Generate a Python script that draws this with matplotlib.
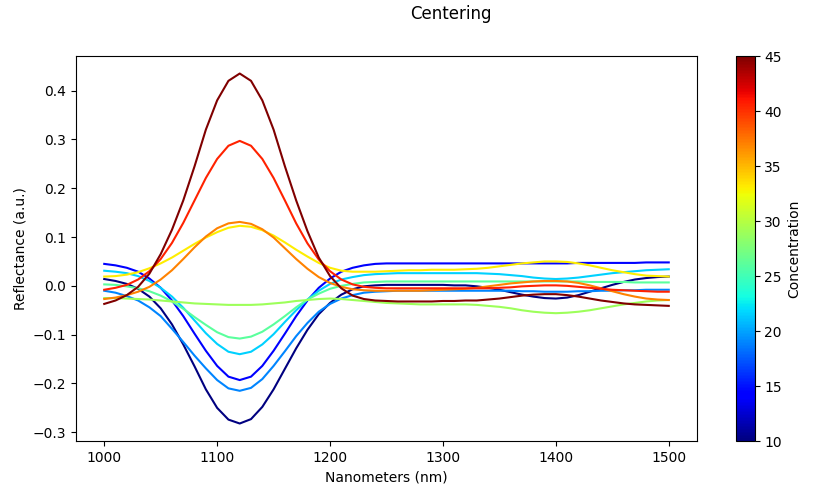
import numpy as np
import matplotlib
matplotlib.use("Agg")
import matplotlib.pyplot as plt
from matplotlib import cm, colors

# wavelength grid (nm), one sample every 10 nm
wavelengths = np.arange(1000, 1510, 10)

# concentration of each sample (colour via jet)
concentrations = [10, 14, 19, 21.5, 26, 29, 33, 37, 40.5, 45]

# centred spectra
spec_10 = [0.014, 0.010, 0.004, -0.006, -0.022, -0.046, -0.079, -0.120, -0.165, -0.212, -0.250, -0.274, -0.282,
           -0.273, -0.248, -0.212, -0.170, -0.128, -0.090, -0.058, -0.035, -0.018, -0.007, -0.001,
           0.001, 0.002, 0.002, 0.002, 0.002, 0.002, 0.002, 0.001, 0.001, -0.001,
           -0.004, -0.008, -0.013, -0.018, -0.022, -0.025, -0.026, -0.024, -0.019, -0.012, -0.005, 0.002,
           0.008, 0.013, 0.016, 0.018, 0.019]
spec_14 = [0.045, 0.042, 0.037, 0.029, 0.015, -0.004, -0.030, -0.062, -0.098, -0.133, -0.164, -0.186, -0.193,
           -0.186, -0.164, -0.133, -0.098, -0.062, -0.030, -0.004, 0.015, 0.029, 0.037, 0.042,
           0.045, 0.046, 0.046, 0.046, 0.046, 0.046, 0.046, 0.046, 0.046, 0.046,
           0.046, 0.046, 0.046, 0.046, 0.046, 0.046, 0.046, 0.046, 0.047, 0.047, 0.047, 0.047,
           0.047, 0.047, 0.048, 0.048, 0.048]
spec_19 = [-0.010, -0.014, -0.021, -0.030, -0.044, -0.062, -0.088, -0.115, -0.143, -0.169, -0.193, -0.210, -0.215,
           -0.209, -0.191, -0.164, -0.134, -0.103, -0.076, -0.053, -0.037, -0.026, -0.019, -0.014,
           -0.012, -0.011, -0.010, -0.010, -0.010, -0.010, -0.010, -0.010, -0.010, -0.010,
           -0.010, -0.010, -0.010, -0.011, -0.011, -0.012, -0.012, -0.012, -0.011, -0.011, -0.010, -0.010,
           -0.009, -0.009, -0.008, -0.008, -0.008]
spec_21 = [0.031, 0.029, 0.026, 0.020, 0.010, -0.004, -0.022, -0.045, -0.071, -0.097, -0.119, -0.135, -0.140,
           -0.135, -0.120, -0.099, -0.074, -0.050, -0.028, -0.010, 0.004, 0.013, 0.018, 0.022,
           0.024, 0.025, 0.026, 0.026, 0.026, 0.026, 0.026, 0.026, 0.026, 0.026,
           0.025, 0.024, 0.022, 0.020, 0.017, 0.015, 0.014, 0.015, 0.017, 0.020, 0.023, 0.026,
           0.028, 0.030, 0.032, 0.033, 0.034]
spec_26 = [0.003, 0.002, -0.001, -0.005, -0.011, -0.020, -0.032, -0.047, -0.064, -0.080, -0.095, -0.105, -0.108,
           -0.104, -0.094, -0.079, -0.062, -0.044, -0.028, -0.016, -0.006, 0.000, 0.004, 0.007,
           0.008, 0.009, 0.009, 0.009, 0.009, 0.009, 0.009, 0.009, 0.009, 0.009,
           0.009, 0.009, 0.009, 0.009, 0.009, 0.009, 0.009, 0.009, 0.009, 0.008, 0.008, 0.008,
           0.008, 0.007, 0.007, 0.007, 0.007]
spec_29 = [-0.025, -0.025, -0.026, -0.027, -0.028, -0.030, -0.032, -0.034, -0.036, -0.037, -0.038, -0.039, -0.039,
           -0.039, -0.038, -0.036, -0.034, -0.031, -0.029, -0.027, -0.026, -0.027, -0.029, -0.031,
           -0.033, -0.035, -0.036, -0.037, -0.038, -0.038, -0.038, -0.038, -0.038, -0.039,
           -0.041, -0.043, -0.046, -0.050, -0.053, -0.055, -0.056, -0.055, -0.053, -0.050, -0.046, -0.042,
           -0.038, -0.035, -0.032, -0.030, -0.029]
spec_33 = [0.019, 0.020, 0.023, 0.028, 0.036, 0.046, 0.058, 0.072, 0.086, 0.099, 0.110, 0.119, 0.123,
           0.121, 0.114, 0.103, 0.089, 0.074, 0.060, 0.047, 0.037, 0.031, 0.029, 0.029,
           0.029, 0.030, 0.031, 0.032, 0.032, 0.033, 0.033, 0.033, 0.034, 0.035,
           0.037, 0.040, 0.043, 0.046, 0.048, 0.050, 0.050, 0.049, 0.046, 0.042, 0.037, 0.032,
           0.028, 0.024, 0.021, 0.020, 0.019]
spec_37 = [-0.027, -0.024, -0.019, -0.012, -0.002, 0.013, 0.032, 0.055, 0.079, 0.101, 0.118, 0.128, 0.131,
           0.127, 0.116, 0.099, 0.077, 0.055, 0.035, 0.018, 0.006, -0.002, -0.007, -0.009,
           -0.010, -0.010, -0.010, -0.010, -0.010, -0.009, -0.008, -0.007, -0.006, -0.004,
           -0.001, 0.002, 0.005, 0.007, 0.009, 0.010, 0.010, 0.009, 0.006, 0.001, -0.005, -0.011,
           -0.017, -0.022, -0.026, -0.028, -0.029]
spec_40 = [-0.008, -0.004, 0.002, 0.013, 0.030, 0.055, 0.088, 0.129, 0.175, 0.221, 0.260, 0.287, 0.297,
           0.287, 0.260, 0.221, 0.175, 0.128, 0.087, 0.054, 0.030, 0.013, 0.003, -0.002,
           -0.004, -0.005, -0.005, -0.005, -0.005, -0.005, -0.005, -0.005, -0.005, -0.005,
           -0.005, -0.004, -0.003, -0.001, 0.000, 0.001, 0.001, 0.000, -0.002, -0.004, -0.006, -0.008,
           -0.009, -0.010, -0.011, -0.012, -0.012]
spec_45 = [-0.037, -0.030, -0.019, -0.002, 0.025, 0.065, 0.115, 0.175, 0.245, 0.320, 0.380, 0.420, 0.435,
           0.420, 0.380, 0.320, 0.245, 0.175, 0.112, 0.058, 0.020, -0.005, -0.020, -0.027,
           -0.030, -0.031, -0.032, -0.032, -0.032, -0.032, -0.031, -0.031, -0.030, -0.030,
           -0.028, -0.026, -0.023, -0.020, -0.018, -0.017, -0.017, -0.019, -0.022, -0.026, -0.030, -0.033,
           -0.036, -0.038, -0.039, -0.040, -0.041]

spectra = [spec_10, spec_14, spec_19, spec_21, spec_26, spec_29, spec_33, spec_37, spec_40, spec_45]

fig = plt.figure(figsize=(8.13, 4.88), dpi=100)
ax = fig.add_axes([0.0935, 0.0963, 0.7638, 0.7889])
cax = fig.add_axes([0.9047, 0.0963, 0.0234, 0.7889])

cmap = plt.get_cmap('jet')
norm = colors.Normalize(vmin=10, vmax=45)

for c, s in zip(concentrations, spectra):
    ax.plot(wavelengths, s, color=cmap(norm(c)), linewidth=1.5)

ax.set_xlabel('Nanometers (nm)')
ax.set_ylabel('Reflectance (a.u.)')

sm = cm.ScalarMappable(norm=norm, cmap=cmap)
sm.set_array([])
cbar = fig.colorbar(sm, cax=cax)
cbar.set_label('Concentration')

fig.suptitle('Centering', x=0.555, y=0.971, va='center', fontsize=12)

plt.savefig('out.png', dpi=100)
plt.close()
